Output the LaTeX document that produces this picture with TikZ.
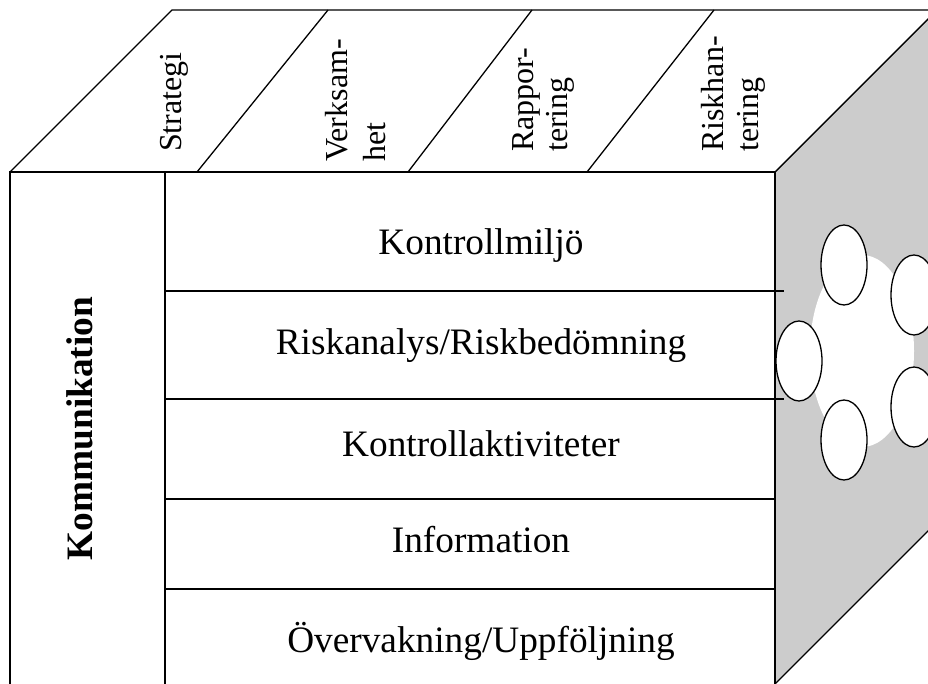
\documentclass[tikz,border=0pt]{standalone}
\usepackage{fontspec}
\setmainfont{Liberation Serif}
\usetikzlibrary{shapes.geometric}
\begin{document}
\begin{tikzpicture}[x=1pt,y=-1pt,line join=miter,
  edge/.style={line width=1.3pt},
  thickedge/.style={line width=2.2pt},
  frontlabel/.style={font=\fontsize{37.3}{44}\selectfont, inner sep=0pt, anchor=base},
  toplabel/.style={font=\fontsize{32}{38}\selectfont, inner sep=0pt, anchor=base west, rotate=90},
  bubble/.style={ellipse, draw, fill=white, line width=1.3pt, minimum width=46pt, minimum height=80pt, inner sep=0pt}]
\useasboundingbox (0,0) rectangle (928,684);
\clip (0,0) rectangle (928,684);
% right side face
\fill[black!20] (775,172) -- (937,10) -- (937,522) -- (775,684) -- cycle;
\fill[white] (862,351) ellipse [x radius=52, y radius=96];
\draw[edge] (775,172) -- (937,10);
\draw[edge] (775,684) -- (937,522);
% top face
\draw[edge, fill=white] (10,172) -- (172,10) -- (937,10) -- (775,172);
\draw[edge] (197,172) -- (328,10);
\draw[edge] (408,172) -- (532,10);
\draw[edge] (587,172) -- (714,10);
% front face
\draw[edge] (10,172) -- (10,700);
\draw[edge] (165,172) -- (165,700);
\draw[edge] (775,172) -- (775,700);
\draw[thickedge] (9,172) -- (776,172);
\draw[edge] (165,291) -- (784,291);
\draw[edge] (165,399) -- (784,399);
\draw[edge] (165,499) -- (775,499);
\draw[edge] (165,589) -- (775,589);
% bubbles
\node[bubble] (b1) at (844,265) {};
\node[bubble] (b2) at (914,295) {};
\node[bubble] (b3) at (799,361) {};
\node[bubble] (b4) at (914,407) {};
\node[bubble] (b5) at (844,440) {};
% top labels
\node[toplabel] (strat) at (181,152) {Strategi};
\node[toplabel] (verk1) at (347,162) {Verksam-};
\node[toplabel] (verk2) at (385,162) {het};
\node[toplabel] (rapp1) at (533,152) {Rappor-};
\node[toplabel] (rapp2) at (567,152) {tering};
\node[toplabel] (risk1) at (723,152) {Riskhan-};
\node[toplabel] (risk2) at (758,152) {tering};
% front labels
\node[frontlabel] (r1) at (481,255) {Kontrollmiljö};
\node[frontlabel] (r2) at (481,354) {Riskanalys/Riskbedömning};
\node[frontlabel] (r3) at (481,456) {Kontrollaktiviteter};
\node[frontlabel] (r4) at (481,552) {Information};
\node[frontlabel] (r5) at (481,652) {Övervakning/Uppföljning};
\node[frontlabel, font=\fontsize{37.3}{44}\selectfont\bfseries, rotate=90] (komm) at (92,428.5) {Kommunikation};
\end{tikzpicture}
\end{document}
